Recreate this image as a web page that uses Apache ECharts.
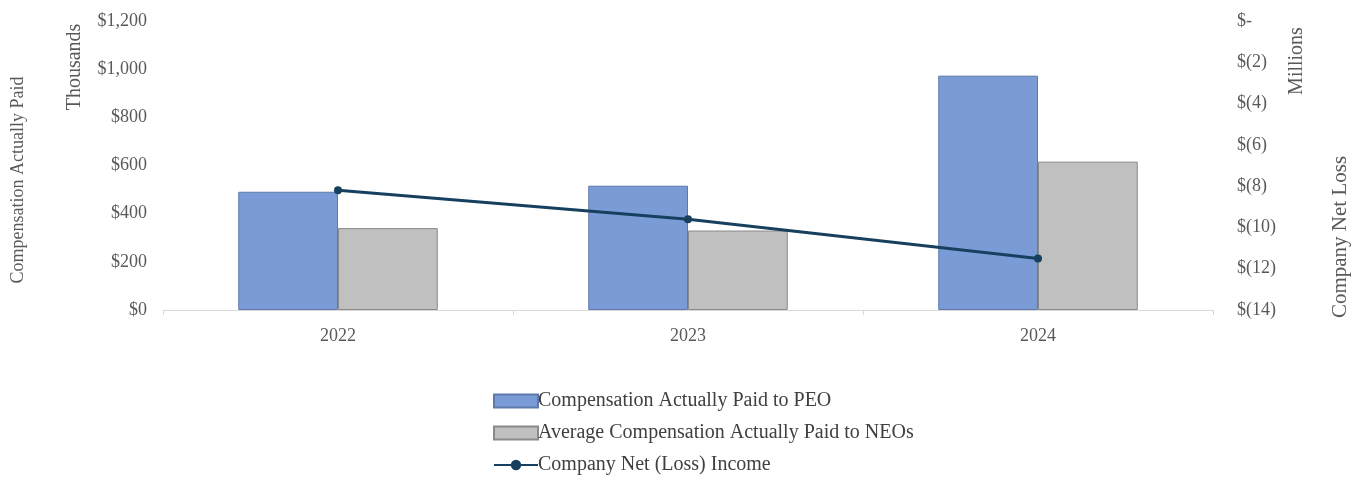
<!DOCTYPE html>
<html><head><meta charset="utf-8">
<script src="https://cdn.jsdelivr.net/npm/echarts@6/dist/echarts.min.js"></script>
<style>html,body{margin:0;padding:0;background:#fff}#c{width:1356px;height:481px}</style>
</head><body><div id="c"></div>
<script>
const categories = ['2022', '2023', '2024'];
const peoPaid = [491, 516, 973];
const neoPaid = [340, 330, 616];
const netIncome = [-8.2, -9.6, -11.5];
const seriesNames = ['Compensation Actually Paid to PEO', 'Average Compensation Actually Paid to NEOs', 'Company Net (Loss) Income'];

const FONT = '"Liberation Serif", "Times New Roman", serif';
const chart = echarts.init(document.getElementById('c'));
chart.setOption({
  animation: false,
  textStyle: { fontFamily: FONT },
  grid: { left: 163, right: 143, top: 21, bottom: 171 },
  legend: {
    orient: 'vertical', left: 488, top: 386, itemGap: 12,
    itemWidth: 44, itemHeight: 13, align: 'left',
    textStyle: { fontFamily: FONT, fontSize: 20, color: '#404040', padding: [0,0,0,-5] },
    data: [
      { name: seriesNames[0], icon: 'rect' },
      { name: seriesNames[1], icon: 'rect' },
      { name: seriesNames[2] }
    ]
  },
  xAxis: {
    type: 'category', data: categories,
    axisLine: { lineStyle: { color: '#d9d9d9', width: 1 } },
    axisTick: { show: true, length: 5, lineStyle: { color: '#d9d9d9' } },
    axisLabel: { fontFamily: FONT, fontSize: 18, color: '#595959', margin: 17 }
  },
  yAxis: [
    { type: 'value', min: 0, max: 1200, interval: 200,
      splitLine: { show: false }, axisLine: { show: false }, axisTick: { show: false },
      axisLabel: { fontFamily: FONT, fontSize: 18, color: '#595959', margin: 16,
        formatter: v => '$' + v.toLocaleString('en-US') } },
    { type: 'value', min: -14, max: 0, interval: 2,
      splitLine: { show: false }, axisLine: { show: false }, axisTick: { show: false },
      axisLabel: { fontFamily: FONT, fontSize: 18, color: '#595959', margin: 24,
        formatter: v => v === 0 ? '$-' : '$(' + (-v) + ')' } }
  ],
  graphic: [
    { type: 'text', x: 18, y: 180, rotation: Math.PI/2, style: { text: 'Compensation Actually Paid', font: '18px ' + FONT, fill: '#595959', align: 'center', verticalAlign: 'middle' } },
    { type: 'text', x: 75, y: 67, rotation: Math.PI/2, style: { text: 'Thousands', font: '20px ' + FONT, fill: '#595959', align: 'center', verticalAlign: 'middle' } },
    { type: 'text', x: 1297, y: 61, rotation: Math.PI/2, style: { text: 'Millions', font: '20px ' + FONT, fill: '#595959', align: 'center', verticalAlign: 'middle' } },
    { type: 'text', x: 1340, y: 237, rotation: Math.PI/2, style: { text: 'Company Net Loss', font: '21px ' + FONT, fill: '#595959', align: 'center', verticalAlign: 'middle' } }
  ],
  series: [
    { name: seriesNames[0], type: 'bar', data: peoPaid, barGap: '0%', barCategoryGap: '43%',
      itemStyle: { color: '#7b9bd6', borderColor: '#5f79aa', borderWidth: 1 } },
    { name: seriesNames[1], type: 'bar', data: neoPaid,
      itemStyle: { color: '#c0c0c0', borderColor: '#8a8a8a', borderWidth: 1 } },
    { name: seriesNames[2], type: 'line', yAxisIndex: 1, data: netIncome,
      symbol: 'circle', symbolSize: 8,
      lineStyle: { color: '#17405e', width: 3 }, itemStyle: { color: '#17405e' } }
  ]
});
</script></body></html>
